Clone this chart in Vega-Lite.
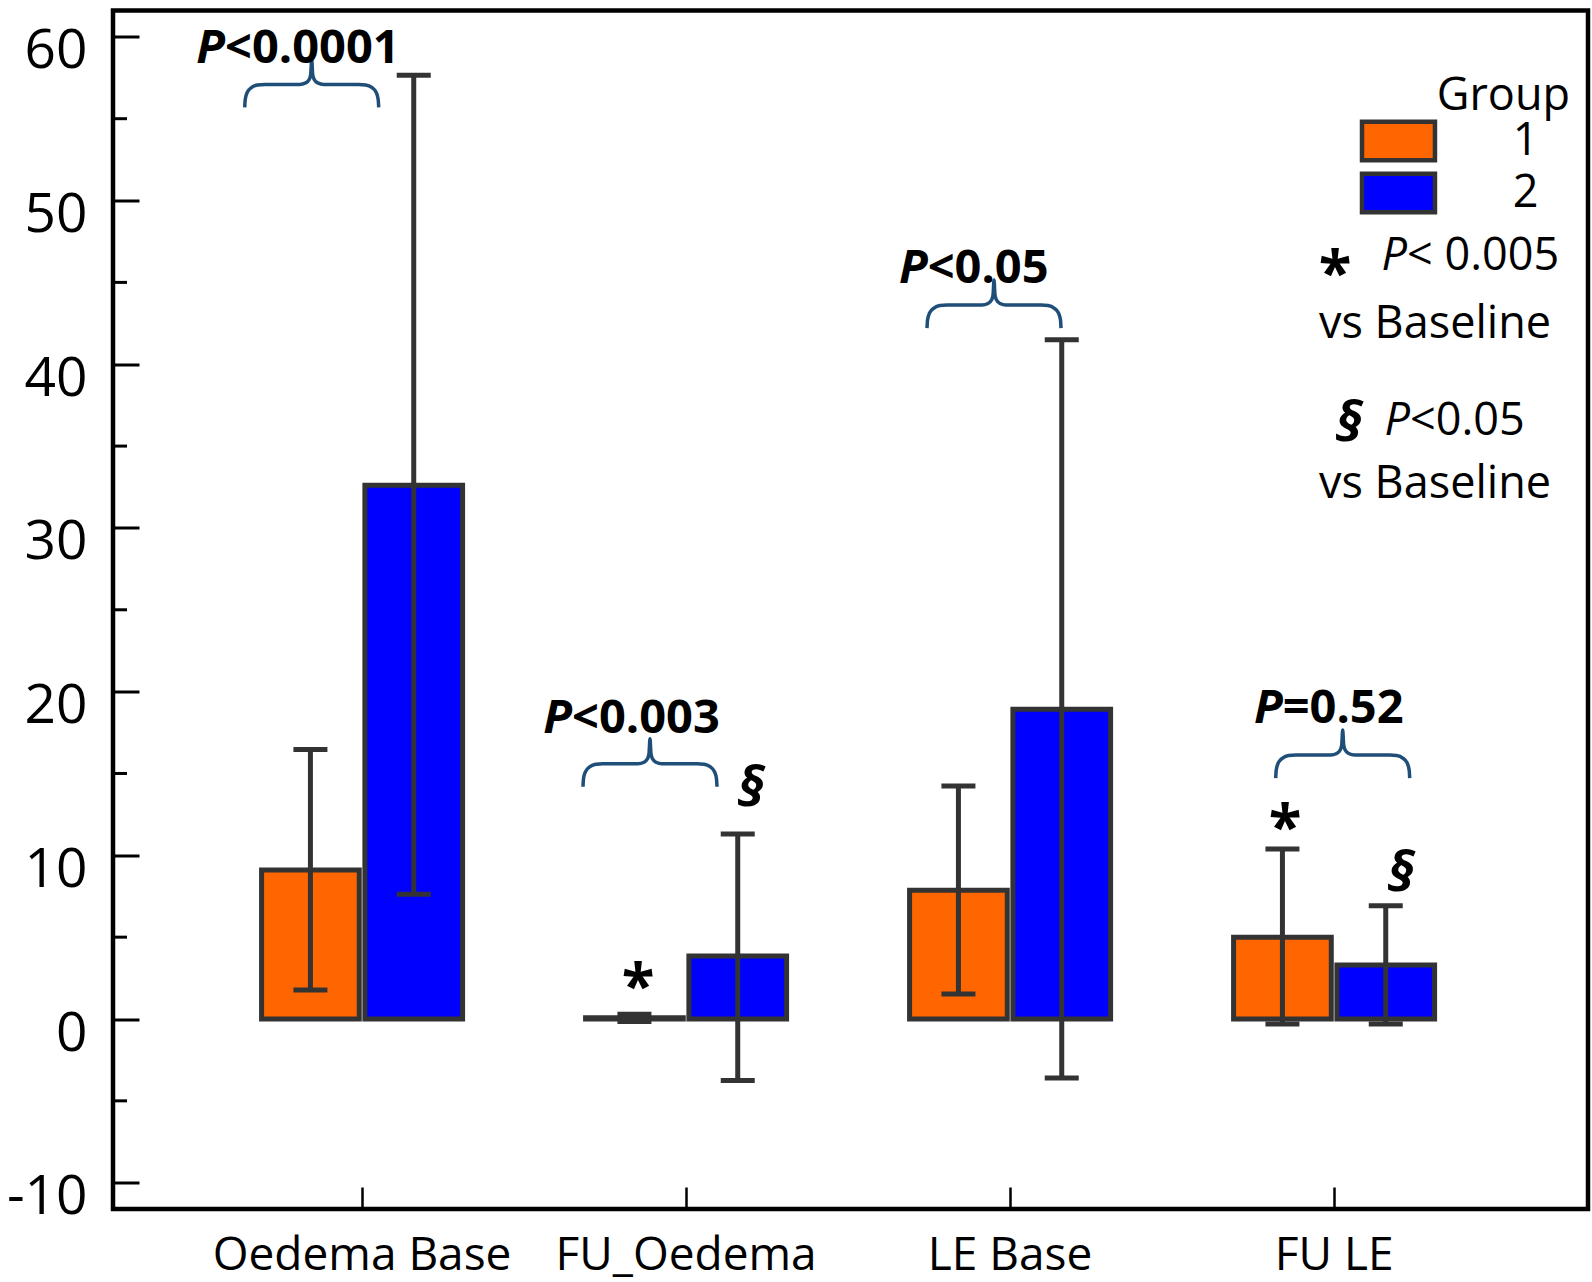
{
  "$schema": "https://vega.github.io/schema/vega-lite/v6.json",
  "width": 1475,
  "height": 1198.5,
  "autosize": {"type": "none"},
  "padding": {"left": 113, "top": 10.5, "right": 4, "bottom": 73},
  "background": "white",
  "config": {
    "view": {"stroke": "black", "strokeWidth": 4.5},
    "font": "Open Sans",
    "axis": {"domain": false, "grid": false}
  },
  "datasets": {
    "bars": [
      {"measure": "Oedema Base", "group": "1", "mean": 9.1, "lo": 1.77, "hi": 16.47},
      {"measure": "Oedema Base", "group": "2", "mean": 32.6, "lo": 7.62, "hi": 57.66},
      {"measure": "FU_Oedema", "group": "1", "mean": 0.07, "lo": -0.15, "hi": 0.29},
      {"measure": "FU_Oedema", "group": "2", "mean": 3.85, "lo": -3.75, "hi": 11.3},
      {"measure": "LE Base", "group": "1", "mean": 7.86, "lo": 1.53, "hi": 14.23},
      {"measure": "LE Base", "group": "2", "mean": 18.92, "lo": -3.6, "hi": 41.5},
      {"measure": "FU LE", "group": "1", "mean": 5.0, "lo": -0.3, "hi": 10.38},
      {"measure": "FU LE", "group": "2", "mean": 3.3, "lo": -0.3, "hi": 6.92}
    ],
    "minor": [
      {"v": -5}, {"v": 5}, {"v": 15}, {"v": 25}, {"v": 35}, {"v": 45}, {"v": 55}
    ],
    "braces": [
      {"b": 1, "i": 1, "x": -0.3636, "y": 55.69}, {"b": 1, "i": 2, "x": -0.3620, "y": 56.179}, {"b": 1, "i": 3, "x": -0.3559, "y": 56.606},
      {"b": 1, "i": 4, "x": -0.3420, "y": 56.912}, {"b": 1, "i": 5, "x": -0.3235, "y": 57.064}, {"b": 1, "i": 6, "x": -0.3019, "y": 57.095},
      {"b": 1, "i": 7, "x": -0.1938, "y": 57.095}, {"b": 1, "i": 8, "x": -0.1753, "y": 57.187}, {"b": 1, "i": 9, "x": -0.1645, "y": 57.400},
      {"b": 1, "i": 10, "x": -0.1599, "y": 57.706}, {"b": 1, "i": 11, "x": -0.1568, "y": 58.622}, {"b": 1, "i": 12, "x": -0.1537, "y": 57.706},
      {"b": 1, "i": 13, "x": -0.1491, "y": 57.400}, {"b": 1, "i": 14, "x": -0.1383, "y": 57.187}, {"b": 1, "i": 15, "x": -0.1198, "y": 57.095},
      {"b": 1, "i": 16, "x": -0.0117, "y": 57.095}, {"b": 1, "i": 17, "x": 0.0099, "y": 57.064}, {"b": 1, "i": 18, "x": 0.0284, "y": 56.912},
      {"b": 1, "i": 19, "x": 0.0423, "y": 56.606}, {"b": 1, "i": 20, "x": 0.0484, "y": 56.179}, {"b": 1, "i": 21, "x": 0.0500, "y": 55.69},
      {"b": 2, "i": 1, "x": 0.6805, "y": 14.19}, {"b": 2, "i": 2, "x": 0.6821, "y": 14.679}, {"b": 2, "i": 3, "x": 0.6882, "y": 15.106},
      {"b": 2, "i": 4, "x": 0.7021, "y": 15.412}, {"b": 2, "i": 5, "x": 0.7206, "y": 15.564}, {"b": 2, "i": 6, "x": 0.7422, "y": 15.595},
      {"b": 2, "i": 7, "x": 0.8503, "y": 15.595}, {"b": 2, "i": 8, "x": 0.8688, "y": 15.687}, {"b": 2, "i": 9, "x": 0.8796, "y": 15.900},
      {"b": 2, "i": 10, "x": 0.8842, "y": 16.206}, {"b": 2, "i": 11, "x": 0.8873, "y": 17.122}, {"b": 2, "i": 12, "x": 0.8904, "y": 16.206},
      {"b": 2, "i": 13, "x": 0.8950, "y": 15.900}, {"b": 2, "i": 14, "x": 0.9058, "y": 15.687}, {"b": 2, "i": 15, "x": 0.9243, "y": 15.595},
      {"b": 2, "i": 16, "x": 1.0324, "y": 15.595}, {"b": 2, "i": 17, "x": 1.0540, "y": 15.564}, {"b": 2, "i": 18, "x": 1.0725, "y": 15.412},
      {"b": 2, "i": 19, "x": 1.0864, "y": 15.106}, {"b": 2, "i": 20, "x": 1.0925, "y": 14.679}, {"b": 2, "i": 21, "x": 1.0941, "y": 14.19},
      {"b": 3, "i": 1, "x": 1.7423, "y": 42.21}, {"b": 3, "i": 2, "x": 1.7439, "y": 42.699}, {"b": 3, "i": 3, "x": 1.7500, "y": 43.126},
      {"b": 3, "i": 4, "x": 1.7639, "y": 43.432}, {"b": 3, "i": 5, "x": 1.7824, "y": 43.584}, {"b": 3, "i": 6, "x": 1.8040, "y": 43.615},
      {"b": 3, "i": 7, "x": 1.9121, "y": 43.615}, {"b": 3, "i": 8, "x": 1.9306, "y": 43.707}, {"b": 3, "i": 9, "x": 1.9414, "y": 43.920},
      {"b": 3, "i": 10, "x": 1.9460, "y": 44.226}, {"b": 3, "i": 11, "x": 1.9491, "y": 45.142}, {"b": 3, "i": 12, "x": 1.9522, "y": 44.226},
      {"b": 3, "i": 13, "x": 1.9568, "y": 43.920}, {"b": 3, "i": 14, "x": 1.9676, "y": 43.707}, {"b": 3, "i": 15, "x": 1.9861, "y": 43.615},
      {"b": 3, "i": 16, "x": 2.0942, "y": 43.615}, {"b": 3, "i": 17, "x": 2.1158, "y": 43.584}, {"b": 3, "i": 18, "x": 2.1343, "y": 43.432},
      {"b": 3, "i": 19, "x": 2.1482, "y": 43.126}, {"b": 3, "i": 20, "x": 2.1543, "y": 42.699}, {"b": 3, "i": 21, "x": 2.1559, "y": 42.21},
      {"b": 4, "i": 1, "x": 2.8185, "y": 14.72}, {"b": 4, "i": 2, "x": 2.8201, "y": 15.209}, {"b": 4, "i": 3, "x": 2.8262, "y": 15.636},
      {"b": 4, "i": 4, "x": 2.8401, "y": 15.942}, {"b": 4, "i": 5, "x": 2.8586, "y": 16.094}, {"b": 4, "i": 6, "x": 2.8802, "y": 16.125},
      {"b": 4, "i": 7, "x": 2.9883, "y": 16.125}, {"b": 4, "i": 8, "x": 3.0068, "y": 16.217}, {"b": 4, "i": 9, "x": 3.0176, "y": 16.430},
      {"b": 4, "i": 10, "x": 3.0222, "y": 16.736}, {"b": 4, "i": 11, "x": 3.0253, "y": 17.652}, {"b": 4, "i": 12, "x": 3.0284, "y": 16.736},
      {"b": 4, "i": 13, "x": 3.0330, "y": 16.430}, {"b": 4, "i": 14, "x": 3.0438, "y": 16.217}, {"b": 4, "i": 15, "x": 3.0623, "y": 16.125},
      {"b": 4, "i": 16, "x": 3.1704, "y": 16.125}, {"b": 4, "i": 17, "x": 3.1920, "y": 16.094}, {"b": 4, "i": 18, "x": 3.2105, "y": 15.942},
      {"b": 4, "i": 19, "x": 3.2244, "y": 15.636}, {"b": 4, "i": 20, "x": 3.2305, "y": 15.209}, {"b": 4, "i": 21, "x": 3.2321, "y": 14.72}
    ],
    "notes": [
      {"s": "A", "t": "P", "x": -0.4244, "y": 58.41},
      {"s": "B", "t": "<0.0001", "x": -0.4244, "y": 58.41},
      {"s": "A", "t": "P", "x": 0.6466, "y": 17.45},
      {"s": "B", "t": "<0.003", "x": 0.6466, "y": 17.45},
      {"s": "A", "t": "P", "x": 1.7444, "y": 44.98},
      {"s": "B", "t": "<0.05", "x": 1.7444, "y": 44.98},
      {"s": "A", "t": "P", "x": 2.840, "y": 18.10},
      {"s": "B", "t": "=0.52", "x": 2.840, "y": 18.10},
      {"s": "G", "t": "*", "x": 0.8503, "y": 0.73},
      {"s": "G", "t": "*", "x": 2.8472, "y": 10.45},
      {"s": "G", "t": "*", "x": 3.0015, "y": 44.30},
      {"s": "H", "t": "§", "x": 1.1991, "y": 13.0},
      {"s": "H", "t": "§", "x": 3.2052, "y": 7.8},
      {"s": "H", "t": "§", "x": 3.0448, "y": 35.3},
      {"s": "C", "t": "P", "x": 3.2238, "y": 45.75},
      {"s": "D", "t": "< 0.005", "x": 3.2238, "y": 45.75},
      {"s": "C", "t": "P", "x": 3.233, "y": 35.67},
      {"s": "D", "t": "<0.05", "x": 3.233, "y": 35.67},
      {"s": "E", "t": "vs Baseline", "x": 3.3102, "y": 41.58},
      {"s": "E", "t": "vs Baseline", "x": 3.3102, "y": 31.81},
      {"s": "F", "t": "Group", "x": 3.7269, "y": 55.52}
    ]
  },
  "layer": [
    {
      "data": {"name": "bars"},
      "encoding": {
        "x": {
          "field": "measure", "type": "nominal",
          "sort": ["Oedema Base", "FU_Oedema", "LE Base", "FU LE"],
          "scale": {"paddingInner": 0.3796, "paddingOuter": 0.466, "align": 0.492},
          "axis": {
            "title": null, "orient": "bottom", "labelAngle": 0,
            "tickSize": -22, "tickWidth": 2.5, "tickColor": "black",
            "labelPadding": 82, "labelBaseline": "alphabetic", "labelLimit": 0,
            "labelFont": "Open Sans", "labelFontSize": 46, "labelColor": "black"
          }
        },
        "xOffset": {"field": "group", "type": "nominal", "scale": {"paddingInner": 0.0544, "paddingOuter": 0}}
      },
      "layer": [
        {
          "mark": {"type": "bar", "stroke": "#333333", "strokeWidth": 5},
          "encoding": {
            "y": {
              "field": "mean", "type": "quantitative",
              "scale": {"domain": [-11.607, 61.61], "nice": false, "zero": false},
              "axis": {
                "title": null, "orient": "left",
                "values": [-10, 0, 10, 20, 30, 40, 50, 60],
                "tickSize": -26,
                "tickWidth": 3, "tickColor": "black",
                "labelExpr": "'' + datum.value",
                "labelPadding": 52, "labelOffset": 31, "labelBaseline": "alphabetic", "labelAlign": "right",
                "labelFont": "Open Sans", "labelFontSize": 55, "labelColor": "black",
                "labelFlush": false, "labelOverlap": false
              }
            },
            "color": {
              "field": "group", "type": "nominal",
              "scale": {"domain": ["1", "2"], "range": ["#FF6600", "#0000FF"]},
              "legend": {
                "title": null, "orient": "none", "legendX": 1245.7, "legendY": 108,
                "padding": 0, "clipHeight": 45,
                "symbolType": "M-1,-1H2.8V1H-1Z", "symbolSize": 1475,
                "symbolStrokeColor": "#333333", "symbolStrokeWidth": 4.5, "symbolOpacity": 1,
                "labelFont": "Open Sans", "labelFontSize": 45, "labelColor": "black",
                "labelOffset": 109, "rowPadding": 6
              }
            }
          }
        },
        {
          "mark": {"type": "rule", "color": "#333333", "strokeWidth": 5},
          "encoding": {
            "y": {"field": "lo", "type": "quantitative"},
            "y2": {"field": "hi"}
          }
        },
        {
          "mark": {"type": "tick", "color": "#333333", "thickness": 5, "size": 34, "opacity": 1},
          "encoding": {"y": {"field": "lo", "type": "quantitative"}}
        },
        {
          "mark": {"type": "tick", "color": "#333333", "thickness": 5, "size": 34, "opacity": 1},
          "encoding": {"y": {"field": "hi", "type": "quantitative"}}
        }
      ]
    },
    {
      "layer": [
        {
          "data": {"name": "minor"},
          "mark": {"type": "rule", "color": "black", "strokeWidth": 3},
          "encoding": {
            "x": {"datum": -0.7701, "type": "quantitative", "scale": {"domain": [-0.7701, 3.7824], "nice": false, "zero": false}, "axis": null},
            "x2": {"datum": -0.7269},
            "y": {"field": "v", "type": "quantitative", "axis": null}
          }
        },
        {
          "data": {"name": "braces"},
          "mark": {"type": "line", "color": "#1F4E79", "strokeWidth": 3.5, "interpolate": "monotone"},
          "encoding": {
            "x": {"field": "x", "type": "quantitative", "axis": null},
            "y": {"field": "y", "type": "quantitative", "axis": null},
            "detail": {"field": "b", "type": "nominal"},
            "order": {"field": "i", "type": "quantitative"}
          }
        },
        {
          "data": {"name": "notes"},
          "transform": [{"filter": {"field": "s", "equal": "A"}}],
          "mark": {"type": "text", "font": "Open Sans", "fontSize": 47, "fontWeight": "bold", "fontStyle": "italic", "align": "right", "baseline": "alphabetic", "color": "black"},
          "encoding": {
            "x": {"field": "x", "type": "quantitative", "axis": null},
            "y": {"field": "y", "type": "quantitative", "axis": null},
            "text": {"field": "t"}
          }
        },
        {
          "data": {"name": "notes"},
          "transform": [{"filter": {"field": "s", "equal": "B"}}],
          "mark": {"type": "text", "font": "Open Sans", "fontSize": 47, "fontWeight": "bold", "align": "left", "baseline": "alphabetic", "color": "black"},
          "encoding": {
            "x": {"field": "x", "type": "quantitative", "axis": null},
            "y": {"field": "y", "type": "quantitative", "axis": null},
            "text": {"field": "t"}
          }
        },
        {
          "data": {"name": "notes"},
          "transform": [{"filter": {"field": "s", "equal": "C"}}],
          "mark": {"type": "text", "font": "Open Sans", "fontSize": 45, "fontStyle": "italic", "align": "right", "baseline": "alphabetic", "color": "black"},
          "encoding": {
            "x": {"field": "x", "type": "quantitative", "axis": null},
            "y": {"field": "y", "type": "quantitative", "axis": null},
            "text": {"field": "t"}
          }
        },
        {
          "data": {"name": "notes"},
          "transform": [{"filter": {"field": "s", "equal": "D"}}],
          "mark": {"type": "text", "font": "Open Sans", "fontSize": 45, "align": "left", "baseline": "alphabetic", "color": "black"},
          "encoding": {
            "x": {"field": "x", "type": "quantitative", "axis": null},
            "y": {"field": "y", "type": "quantitative", "axis": null},
            "text": {"field": "t"}
          }
        },
        {
          "data": {"name": "notes"},
          "transform": [{"filter": {"field": "s", "equal": "E"}}],
          "mark": {"type": "text", "font": "Open Sans", "fontSize": 45, "align": "center", "baseline": "alphabetic", "color": "black"},
          "encoding": {
            "x": {"field": "x", "type": "quantitative", "axis": null},
            "y": {"field": "y", "type": "quantitative", "axis": null},
            "text": {"field": "t"}
          }
        },
        {
          "data": {"name": "notes"},
          "transform": [{"filter": {"field": "s", "equal": "F"}}],
          "mark": {"type": "text", "font": "Open Sans", "fontSize": 45, "align": "right", "baseline": "alphabetic", "color": "black"},
          "encoding": {
            "x": {"field": "x", "type": "quantitative", "axis": null},
            "y": {"field": "y", "type": "quantitative", "axis": null},
            "text": {"field": "t"}
          }
        },
        {
          "data": {"name": "notes"},
          "transform": [{"filter": {"field": "s", "equal": "G"}}],
          "mark": {"type": "text", "font": "Open Sans", "fontSize": 60, "fontWeight": "bold", "align": "center", "baseline": "alphabetic", "color": "black"},
          "encoding": {
            "x": {"field": "x", "type": "quantitative", "axis": null},
            "y": {"field": "y", "type": "quantitative", "axis": null},
            "text": {"field": "t"}
          }
        },
        {
          "data": {"name": "notes"},
          "transform": [{"filter": {"field": "s", "equal": "H"}}],
          "mark": {"type": "text", "font": "Open Sans", "fontSize": 56, "fontWeight": "bold", "fontStyle": "italic", "align": "center", "baseline": "alphabetic", "color": "black"},
          "encoding": {
            "x": {"field": "x", "type": "quantitative", "axis": null},
            "y": {"field": "y", "type": "quantitative", "axis": null},
            "text": {"field": "t"}
          }
        }
      ]
    }
  ],
  "resolve": {"scale": {"x": "independent"}, "axis": {"y": "independent"}}
}
